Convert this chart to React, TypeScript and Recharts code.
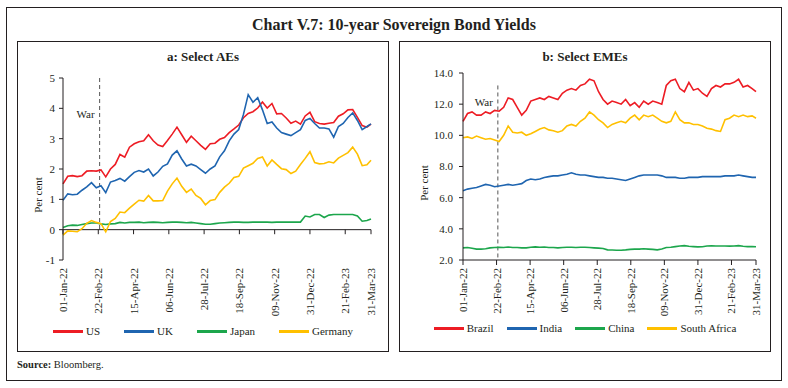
import { LineChart, Line, XAxis, YAxis, ReferenceLine } from "recharts";

const FONT = '"Liberation Serif", "DejaVu Serif", serif';
const INK = "#231f20";
const RED = "#ed1c24";
const BLUE = "#1f65b0";
const GREEN = "#1ca64c";
const GOLD = "#ffc000";

// days since 01-Jan-22, roughly weekly
const days = [
  0, 7, 14, 21, 28, 35, 42, 49, 56, 63, 70, 77, 84, 91, 98, 105, 112, 119, 126, 133,
  140, 147, 154, 161, 168, 175, 182, 189, 196, 203, 210, 217, 224, 231, 238, 245, 252, 259, 266, 273,
  280, 287, 294, 301, 308, 315, 322, 329, 336, 343, 350, 357, 364, 371, 378, 385, 392, 399, 406, 413,
  420, 427, 434, 441, 448, 454,
];

const tickDays = [0, 52, 104, 156, 208, 260, 312, 364, 416, 454];
const tickLabels = [
  "01-Jan-22", "22-Feb-22", "15-Apr-22", "06-Jun-22", "28-Jul-22",
  "18-Sep-22", "09-Nov-22", "31-Dec-22", "21-Feb-23", "31-Mar-23",
];
const warDay = 54;

// a: Select AEs
const us = [
  1.51, 1.76, 1.78, 1.75, 1.78, 1.93, 1.94, 1.93, 1.97, 1.74,
  2.0, 2.15, 2.48, 2.39, 2.72, 2.83, 2.9, 2.93, 3.13, 2.93,
  2.79, 2.74, 2.94, 3.15, 3.38, 3.13, 2.88, 3.08, 2.93, 2.78,
  2.65, 2.83, 2.85, 2.98, 3.04, 3.2, 3.32, 3.45, 3.69, 3.83,
  3.89, 4.01, 4.21, 4.01, 4.16, 3.82, 3.83, 3.68, 3.51, 3.58,
  3.48, 3.75, 3.87, 3.56, 3.5, 3.48, 3.51, 3.53, 3.74, 3.82,
  3.95, 3.96, 3.7, 3.43, 3.38, 3.48,
];
const uk = [
  0.97, 1.18, 1.15, 1.17, 1.3, 1.41, 1.55, 1.38, 1.45, 1.22,
  1.57, 1.62, 1.69, 1.6, 1.75, 1.89, 1.95, 1.9, 2.0, 1.77,
  1.9, 2.09, 2.17, 2.46, 2.6, 2.33, 2.1, 2.16, 2.1, 1.98,
  1.86, 2.0, 2.1, 2.4, 2.6, 2.93, 3.15, 3.3, 3.8, 4.45,
  4.2, 4.35, 3.95, 3.5, 3.55, 3.35, 3.2, 3.15, 3.1, 3.2,
  3.3, 3.6, 3.67, 3.5, 3.35, 3.35, 3.32, 3.05, 3.4, 3.5,
  3.7, 3.85, 3.6, 3.3, 3.4, 3.49,
];
const japan = [
  0.07, 0.13, 0.15, 0.14, 0.17, 0.2, 0.22, 0.22, 0.19, 0.17,
  0.19, 0.2, 0.24, 0.22, 0.24, 0.24, 0.25, 0.23, 0.24, 0.25,
  0.24, 0.23, 0.24, 0.25, 0.25, 0.24, 0.23, 0.24, 0.22, 0.2,
  0.18, 0.18, 0.2, 0.22, 0.23, 0.24, 0.25, 0.25, 0.24, 0.24,
  0.25, 0.25, 0.25, 0.25, 0.24, 0.25, 0.25, 0.25, 0.25, 0.25,
  0.25, 0.45, 0.42, 0.5, 0.5, 0.4, 0.48, 0.5, 0.5, 0.5,
  0.5, 0.5, 0.45, 0.28, 0.3, 0.35,
];
const germany = [
  -0.18, -0.04, -0.05, -0.07, 0.03, 0.21, 0.3, 0.24, 0.2, -0.07,
  0.27, 0.37, 0.58, 0.56, 0.71, 0.84, 0.97, 0.94, 1.13, 0.95,
  0.95, 0.96, 1.27, 1.51, 1.7, 1.43, 1.23, 1.34, 1.13, 1.03,
  0.82, 0.96, 0.99, 1.23, 1.4, 1.53, 1.72, 1.76, 2.03, 2.11,
  2.19, 2.35, 2.4, 2.1, 2.3, 2.15, 2.01, 1.98, 1.85, 1.93,
  2.15, 2.35, 2.57, 2.21, 2.17, 2.18, 2.24, 2.2, 2.36, 2.45,
  2.54, 2.72, 2.49, 2.11, 2.14, 2.29,
];

// b: Select EMEs
const brazil = [
  10.9, 11.4, 11.5, 11.3, 11.3, 11.5, 11.4, 11.6, 11.55, 11.8,
  12.4, 12.3, 11.8, 11.3, 11.6, 12.2, 12.3, 12.4, 12.3, 12.5,
  12.4, 12.3, 12.7, 12.9, 13.0, 12.9, 13.2, 13.3, 13.6, 13.5,
  12.8, 12.3, 12.0, 12.2, 12.1, 12.0, 12.3, 11.9, 12.1, 11.8,
  12.2, 12.0, 12.2, 12.1, 12.0, 13.2, 13.5, 13.6, 13.0, 12.8,
  13.4, 12.9, 13.0, 12.7, 12.5, 13.0, 13.2, 13.1, 13.3, 13.3,
  13.4, 13.6, 13.1, 13.2, 13.0, 12.8,
];
const india = [
  6.45, 6.55, 6.6, 6.65, 6.75, 6.85, 6.8, 6.7, 6.75, 6.8,
  6.85, 6.8, 6.85, 6.9, 7.1, 7.2, 7.15, 7.2, 7.3, 7.35,
  7.4, 7.4, 7.45, 7.5, 7.6, 7.5, 7.45, 7.45, 7.4, 7.35,
  7.3, 7.3, 7.25, 7.25, 7.2, 7.15, 7.1, 7.2, 7.3, 7.4,
  7.45, 7.45, 7.45, 7.45, 7.4, 7.3, 7.3, 7.3, 7.25, 7.25,
  7.3, 7.3, 7.3, 7.35, 7.35, 7.35, 7.35, 7.35, 7.4, 7.4,
  7.4, 7.45, 7.4, 7.35, 7.3, 7.3,
];
const china = [
  2.78, 2.8, 2.75, 2.7, 2.7, 2.72, 2.78, 2.8, 2.82, 2.8,
  2.83, 2.8, 2.8, 2.78, 2.78, 2.82, 2.84, 2.82, 2.83, 2.8,
  2.8, 2.78, 2.8, 2.82, 2.82, 2.8, 2.82, 2.82, 2.8, 2.78,
  2.76, 2.74, 2.65, 2.64, 2.63, 2.63, 2.65, 2.68, 2.7, 2.7,
  2.72, 2.7, 2.68, 2.65, 2.7, 2.8, 2.82, 2.86, 2.9, 2.92,
  2.88, 2.86, 2.84, 2.85, 2.9, 2.91, 2.9, 2.9, 2.9, 2.89,
  2.9, 2.92, 2.88, 2.86, 2.86, 2.85,
];
const southAfrica = [
  9.85, 9.9, 9.8, 9.95, 9.85, 9.75, 9.8, 9.7, 9.6, 10.0,
  10.6, 10.2, 10.15, 10.2, 10.0, 10.1, 10.25, 10.4, 10.5, 10.35,
  10.3, 10.2, 10.3, 10.6, 10.7, 10.6, 10.9, 11.1, 11.5, 11.3,
  11.0, 10.8, 10.5, 10.7, 10.8, 10.9, 10.8, 11.1, 11.3, 11.0,
  11.3, 11.2, 11.3, 11.1, 10.9, 10.8, 10.9, 11.5, 11.0, 10.8,
  10.8, 10.7, 10.7, 10.6, 10.45, 10.4, 10.3, 10.25, 11.0, 11.1,
  11.3, 11.2, 11.3, 11.2, 11.25, 11.1,
];

const aeData = days.map((d, i) => ({ day: d, US: us[i], UK: uk[i], Japan: japan[i], Germany: germany[i] }));
const emeData = days.map((d, i) => ({
  day: d, Brazil: brazil[i], India: india[i], China: china[i], "South Africa": southAfrica[i],
}));

const aeSeries = [
  { key: "US", color: RED },
  { key: "UK", color: BLUE },
  { key: "Japan", color: GREEN },
  { key: "Germany", color: GOLD },
];
const emeSeries = [
  { key: "Brazil", color: RED },
  { key: "India", color: BLUE },
  { key: "China", color: GREEN },
  { key: "South Africa", color: GOLD },
];

const tickStyle = { fontSize: 11, fill: INK, fontFamily: FONT };

function DateTick({ x, y, payload }: any) {
  const label = tickLabels[tickDays.indexOf(payload.value)];
  return (
    <g transform={`translate(${x},${y})`}>
      <text x={0} y={0} dy={4} textAnchor="end" transform="rotate(-90)" {...tickStyle}>
        {label}
      </text>
    </g>
  );
}

function WarLabel({ viewBox, shift }: any) {
  return (
    <text x={viewBox.x - 5} y={viewBox.y + shift} textAnchor="end" {...tickStyle}>
      War
    </text>
  );
}

function LegendRow({ items, left, top, width, gap }: any) {
  return (
    <div style={{ position: "absolute", left, top, width, display: "flex", justifyContent: "center", gap, fontSize: 11, color: INK }}>
      {items.map((s: any) => (
        <div key={s.key} style={{ display: "flex", alignItems: "center" }}>
          <div style={{ width: 30, height: 3, background: s.color, marginRight: 3 }} />
          <span>{s.key}</span>
        </div>
      ))}
    </div>
  );
}

function Rotated({ x, y, text }: any) {
  return (
    <div style={{ position: "absolute", left: x, top: y, transform: "translate(-50%,-50%) rotate(-90deg)", fontSize: 11, color: INK, whiteSpace: "nowrap" }}>
      {text}
    </div>
  );
}

export default function App() {
  return (
    <div style={{ position: "relative", width: 788, height: 388, background: "#fff", fontFamily: FONT, color: INK }}>
      <style>{`body{margin:0}`}</style>
      <div style={{ position: "absolute", left: 6, top: 7, width: 776, height: 374, border: `1px solid ${INK}`, boxSizing: "border-box" }} />
      <div style={{ position: "absolute", left: 0, top: 15, width: 788, textAlign: "center", fontSize: 16, fontWeight: "bold", lineHeight: "20px" }}>
        Chart V.7: 10-year Sovereign Bond Yields
      </div>

      {/* panel a */}
      <div style={{ position: "absolute", left: 17, top: 41, width: 372, height: 311, border: `1px solid ${INK}`, boxSizing: "border-box" }} />
      <div style={{ position: "absolute", left: 17, top: 49, width: 372, textAlign: "center", fontSize: 13, fontWeight: "bold", lineHeight: "16px" }}>
        a: Select AEs
      </div>
      <Rotated x={38} y={195} text="Per cent" />
      <div style={{ position: "absolute", left: 18, top: 41 }}>
        <LineChart width={370} height={280} data={aeData} margin={{ top: 37, right: 17, bottom: 0, left: 0 }}>
          <XAxis
            dataKey="day"
            type="number"
            domain={[0, 454]}
            ticks={tickDays}
            interval={0}
            axisLine={false}
            tickLine={false}
            tickSize={5}
            tickMargin={3}
            height={61}
            tick={<DateTick />}
          />
          <YAxis
            type="number"
            domain={[-1, 5]}
            ticks={[-1, 0, 1, 2, 3, 4, 5]}
            interval={0}
            width={45}
            tickSize={4}
            tickMargin={4}
            tick={tickStyle}
            axisLine={{ stroke: INK }}
            tickLine={{ stroke: INK }}
          />
          <ReferenceLine y={0} stroke={INK} />
          {tickDays.map((d) => (
            <ReferenceLine key={d} segment={[{ x: d, y: 0 }, { x: d, y: -0.15 }]} stroke={INK} />
          ))}
          <ReferenceLine
            segment={[{ x: warDay, y: 5 }, { x: warDay, y: -0.08 }]}
            stroke="#555"
            strokeDasharray="4 3"
            label={<WarLabel shift={40} />}
          />
          {aeSeries.map((s) => (
            <Line key={s.key} type="linear" dataKey={s.key} stroke={s.color} strokeWidth={1.6} dot={false} activeDot={false} isAnimationActive={false} />
          ))}
        </LineChart>
      </div>
      <LegendRow items={aeSeries} left={17} top={325} width={372} gap={24} />

      {/* panel b */}
      <div style={{ position: "absolute", left: 399, top: 41, width: 372, height: 311, border: `1px solid ${INK}`, boxSizing: "border-box" }} />
      <div style={{ position: "absolute", left: 399, top: 49, width: 372, textAlign: "center", fontSize: 13, fontWeight: "bold", lineHeight: "16px" }}>
        b: Select EMEs
      </div>
      <Rotated x={424} y={183} text="Per cent" />
      <div style={{ position: "absolute", left: 399, top: 41 }}>
        <LineChart width={371} height={280} data={emeData} margin={{ top: 32, right: 14, bottom: 0, left: 0 }}>
          <XAxis
            dataKey="day"
            type="number"
            domain={[0, 454]}
            ticks={tickDays}
            interval={0}
            axisLine={{ stroke: INK }}
            tickLine={{ stroke: INK }}
            tickSize={5}
            tickMargin={3}
            height={61}
            tick={<DateTick />}
          />
          <YAxis
            type="number"
            domain={[2, 14]}
            ticks={[2, 4, 6, 8, 10, 12, 14]}
            interval={0}
            width={64}
            tickSize={4}
            tickMargin={6}
            tick={tickStyle}
            tickFormatter={(v: number) => v.toFixed(1)}
            axisLine={{ stroke: INK }}
            tickLine={{ stroke: INK }}
          />
          <ReferenceLine
            segment={[{ x: warDay, y: 13.2 }, { x: warDay, y: 2 }]}
            stroke="#555"
            strokeDasharray="4 3"
            label={<WarLabel shift={21} />}
          />
          {emeSeries.map((s) => (
            <Line key={s.key} type="linear" dataKey={s.key} stroke={s.color} strokeWidth={1.6} dot={false} activeDot={false} isAnimationActive={false} />
          ))}
        </LineChart>
      </div>
      <LegendRow items={emeSeries} left={399} top={322} width={372} gap={13} />

      <div style={{ position: "absolute", left: 17, top: 359, fontSize: 10.5 }}>
        <b>Source:</b> Bloomberg.
      </div>
    </div>
  );
}
